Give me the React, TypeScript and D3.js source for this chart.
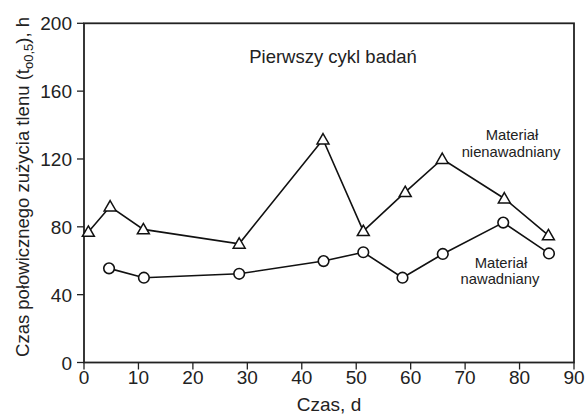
import React from "react";
import * as d3 from "d3";

const xTicks = [0, 10, 20, 30, 40, 50, 60, 70, 80, 90];
const yTicks = [0, 40, 80, 120, 160, 200];

const daysNien = [0.8, 4.8, 10.9, 28.5, 43.9, 51.3, 59.0, 65.8, 77.2, 85.3];
const valsNien = [77, 92, 78.5, 70, 131.5, 77.5, 100.5, 120, 96.7, 75];

const daysNaw = [4.6, 11.0, 28.5, 44.0, 51.3, 58.5, 65.9, 77.0, 85.4];
const valsNaw = [55.5, 50, 52.3, 59.8, 65, 50, 64, 82.5, 64.3];

const W = 587;
const H = 416;
const L = 84, R = 574, T = 23.3, B = 362.5;

export default function App() {
  const x = d3.scaleLinear().domain([0, 90]).range([L, R]);
  const y = d3.scaleLinear().domain([0, 200]).range([B, T]);
  const line = d3.line<[number, number]>().x(d => x(d[0])).y(d => y(d[1]));
  const nien: [number, number][] = daysNien.map((d, i) => [d, valsNien[i]]);
  const naw: [number, number][] = daysNaw.map((d, i) => [d, valsNaw[i]]);
  const tri = d3.symbol().type(d3.symbolTriangle).size(62)() as string;
  const font = "'Liberation Sans', Arial, sans-serif";
  const txt = "#222";
  return (
    <svg width={W} height={H} style={{ position: "absolute", left: 0, top: 0, background: "#fff" }} fontFamily={font}>
      <rect x={L} y={T} width={R - L} height={B - T} fill="none" stroke="#222" strokeWidth={1.8} />
      {xTicks.map(t => (
        <g key={"x" + t}>
          <line x1={x(t)} x2={x(t)} y1={B} y2={B + 7} stroke="#222" strokeWidth={1.3} />
          <text x={x(t)} y={B + 21.5} textAnchor="middle" fontSize={19} fill={txt}>{t}</text>
        </g>
      ))}
      {yTicks.map(t => (
        <g key={"y" + t}>
          <line x1={L - 7} x2={L} y1={y(t)} y2={y(t)} stroke="#222" strokeWidth={1.3} />
          <text x={L - 12} y={y(t) + 7} textAnchor="end" fontSize={19} fill={txt}>{t}</text>
        </g>
      ))}
      <text x={329} y={411} textAnchor="middle" fontSize={19} fill={txt}>Czas, d</text>
      <text transform={`translate(29,187) rotate(-90)`} textAnchor="middle" fontSize={18.5} fill={txt}>
        Czas połowicznego zużycia tlenu (t<tspan fontSize={13} dy={4}>o0,5</tspan><tspan dy={-4}>), h</tspan>
      </text>
      <text x={333} y={63} textAnchor="middle" fontSize={18.5} fill={txt}>Pierwszy cykl badań</text>
      <text x={512} y={140} textAnchor="middle" fontSize={14.8} fill={txt}>Materiał</text>
      <text x={511} y={157} textAnchor="middle" fontSize={14.8} fill={txt}>nienawadniany</text>
      <text x={501} y={268} textAnchor="middle" fontSize={14.8} fill={txt}>Materiał</text>
      <text x={500} y={284} textAnchor="middle" fontSize={14.8} fill={txt}>nawadniany</text>
      <path d={line(nien) || ""} fill="none" stroke="#111" strokeWidth={1.6} />
      <path d={line(naw) || ""} fill="none" stroke="#111" strokeWidth={1.6} />
      {nien.map((p, i) => (
        <path key={"t" + i} d={tri} transform={`translate(${x(p[0])},${y(p[1]) + 1})`} fill="#fff" stroke="#111" strokeWidth={1.5} />
      ))}
      {naw.map((p, i) => (
        <circle key={"c" + i} cx={x(p[0])} cy={y(p[1])} r={5.3} fill="#fff" stroke="#111" strokeWidth={1.6} />
      ))}
    </svg>
  );
}
